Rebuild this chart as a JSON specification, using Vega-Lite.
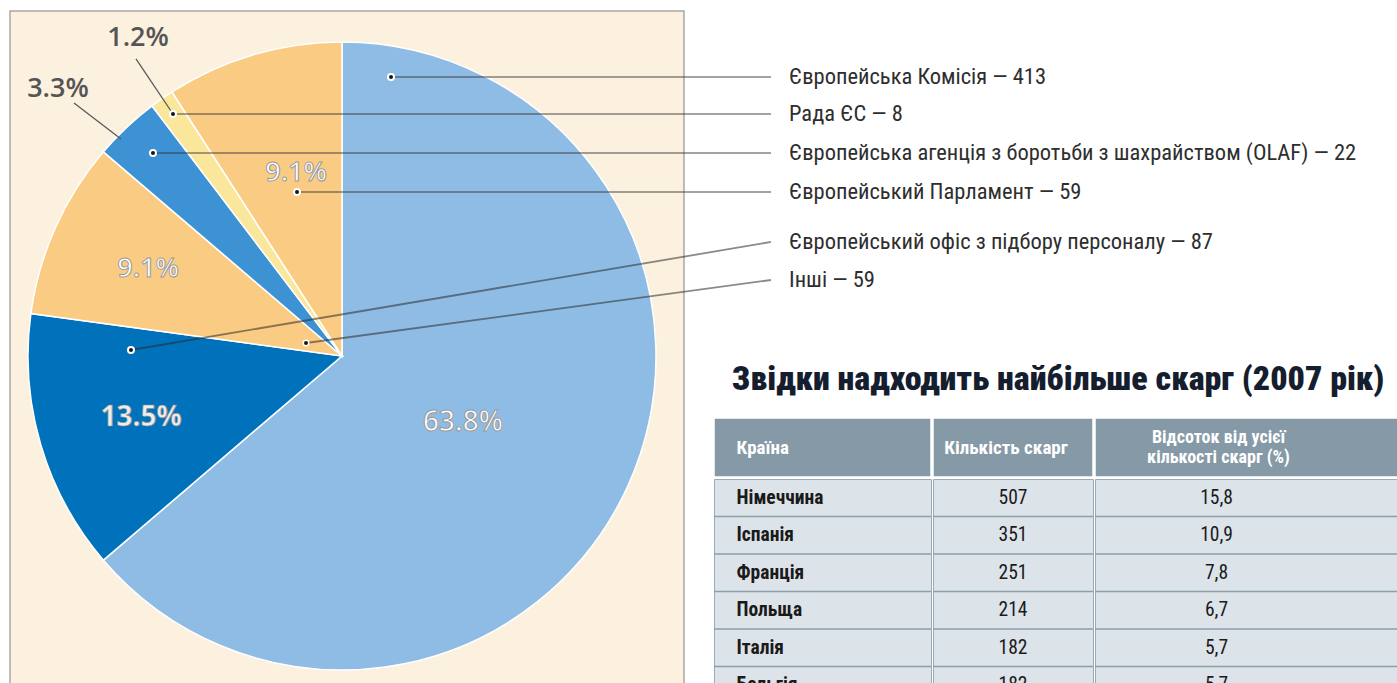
{
  "$schema": "https://vega.github.io/schema/vega-lite/v6.json",
  "padding": {"left": 9, "top": 10, "right": 0, "bottom": 0},
  "background": "#FFFFFF",
  "config": {
    "view": {"stroke": null},
    "axis": {"disable": true},
    "legend": {"disable": true},
    "concat": {"spacing": 0},
    "font": "Roboto Condensed, Noto Sans Condensed, DejaVu Sans Condensed, Roboto, sans-serif"
  },
  "datasets": {
    "offices": [
      {"name": "Європейська Комісія", "count": 413, "share": 0.638, "rank": 1},
      {"name": "Європейський офіс з підбору персоналу", "count": 87, "share": 0.135, "rank": 2},
      {"name": "Інші", "count": 59, "share": 0.091, "rank": 3},
      {"name": "Європейська агенція з боротьби з шахрайством (OLAF)", "count": 22, "share": 0.033, "rank": 4},
      {"name": "Рада ЄС", "count": 8, "share": 0.012, "rank": 5},
      {"name": "Європейський Парламент", "count": 59, "share": 0.091, "rank": 6}
    ],
    "countries": [
      {"country": "Німеччина", "complaints": 507, "percent": 15.8},
      {"country": "Іспанія", "complaints": 351, "percent": 10.9},
      {"country": "Франція", "complaints": 251, "percent": 7.8},
      {"country": "Польща", "complaints": 214, "percent": 6.7},
      {"country": "Італія", "complaints": 182, "percent": 5.7},
      {"country": "Бельгія", "complaints": 182, "percent": 5.7}
    ]
  },
  "spacing": 30,
  "bounds": "flush",
  "hconcat": [
    {
      "width": 674,
      "height": 673,
      "view": {"fill": "#FCF0DF", "stroke": "#A8A8A8", "strokeWidth": 1.5},
      "data": {"name": "offices"},
      "layer": [
        {
          "mark": {"type": "arc", "outerRadius": 314, "stroke": "#FFFFFF", "strokeWidth": 1.5},
          "encoding": {
            "theta": {"field": "count", "type": "quantitative", "stack": true},
            "order": {"field": "rank", "type": "quantitative"},
            "color": {
              "field": "name", "type": "nominal", "legend": null,
              "scale": {
                "domain": ["Європейська Комісія", "Європейський офіс з підбору персоналу", "Інші", "Європейська агенція з боротьби з шахрайством (OLAF)", "Рада ЄС", "Європейський Парламент"],
                "range": ["#8FBCE4", "#0072BB", "#FACB83", "#3C92D3", "#FBE79B", "#FACB83"]
              }
            },
            "x": {"datum": 0, "type": "quantitative", "scale": {"domain": [-1.0573, 1.0892], "nice": false, "zero": false}},
            "y": {"datum": 0, "type": "quantitative", "scale": {"domain": [-1.0446, 1.0987], "nice": false, "zero": false}}
          }
        },
        {
          "transform": [{"filter": "datum.name === 'Європейська Комісія'"}],
          "layer": [
            {"mark": {"type": "rule", "stroke": "#333333", "strokeOpacity": 0.45, "strokeWidth": 2.2},
             "encoding": {"x": {"datum": 0.1561, "type": "quantitative"}, "y": {"datum": 0.8885, "type": "quantitative"}, "x2": {"datum": 1.3662}, "y2": {"datum": 0.8885}}},
            {"mark": {"type": "point", "filled": true, "fill": "#151515", "stroke": "#FFFFFF", "strokeWidth": 2, "size": 36, "opacity": 1},
             "encoding": {"x": {"datum": 0.1561, "type": "quantitative"}, "y": {"datum": 0.8885, "type": "quantitative"}}},
            {"mark": {"type": "text", "font": "Open Sans", "fontSize": 28, "fontWeight": 600, "fill": "#FFFFFF", "stroke": "#9A9A9A", "strokeWidth": 1},
             "encoding": {"x": {"datum": 0.3854, "type": "quantitative"}, "y": {"datum": -0.2134, "type": "quantitative"}, "text": {"field": "share", "type": "quantitative", "format": ".1%"}}}
          ]
        },
        {
          "transform": [{"filter": "datum.name === 'Рада ЄС'"}],
          "layer": [
            {"mark": {"type": "rule", "stroke": "#5A5A5A", "strokeWidth": 1.3},
             "encoding": {"x": {"datum": -0.6561, "type": "quantitative"}, "y": {"datum": 0.9459, "type": "quantitative"}, "x2": {"datum": -0.5382}, "y2": {"datum": 0.7707}}},
            {"mark": {"type": "rule", "stroke": "#333333", "strokeOpacity": 0.45, "strokeWidth": 2.2},
             "encoding": {"x": {"datum": -0.5382, "type": "quantitative"}, "y": {"datum": 0.7707, "type": "quantitative"}, "x2": {"datum": 1.3662}, "y2": {"datum": 0.7707}}},
            {"mark": {"type": "point", "filled": true, "fill": "#151515", "stroke": "#FFFFFF", "strokeWidth": 2, "size": 36, "opacity": 1},
             "encoding": {"x": {"datum": -0.5382, "type": "quantitative"}, "y": {"datum": 0.7707, "type": "quantitative"}}},
            {"mark": {"type": "text", "font": "Open Sans", "fontSize": 27, "fontWeight": 600, "fill": "#555555"},
             "encoding": {"x": {"datum": -0.6497, "type": "quantitative"}, "y": {"datum": 1.0127, "type": "quantitative"}, "text": {"field": "share", "type": "quantitative", "format": ".1%"}}}
          ]
        },
        {
          "transform": [{"filter": "datum.name === 'Європейська агенція з боротьби з шахрайством (OLAF)'"}],
          "layer": [
            {"mark": {"type": "rule", "stroke": "#5A5A5A", "strokeWidth": 1.3},
             "encoding": {"x": {"datum": -0.8535, "type": "quantitative"}, "y": {"datum": 0.8057, "type": "quantitative"}, "x2": {"datum": -0.7038}, "y2": {"datum": 0.6911}}},
            {"mark": {"type": "rule", "stroke": "#333333", "strokeOpacity": 0.45, "strokeWidth": 2.2},
             "encoding": {"x": {"datum": -0.6019, "type": "quantitative"}, "y": {"datum": 0.6465, "type": "quantitative"}, "x2": {"datum": 1.3662}, "y2": {"datum": 0.6465}}},
            {"mark": {"type": "point", "filled": true, "fill": "#151515", "stroke": "#FFFFFF", "strokeWidth": 2, "size": 36, "opacity": 1},
             "encoding": {"x": {"datum": -0.6019, "type": "quantitative"}, "y": {"datum": 0.6465, "type": "quantitative"}}},
            {"mark": {"type": "text", "font": "Open Sans", "fontSize": 27, "fontWeight": 600, "fill": "#555555"},
             "encoding": {"x": {"datum": -0.9045, "type": "quantitative"}, "y": {"datum": 0.8503, "type": "quantitative"}, "text": {"field": "share", "type": "quantitative", "format": ".1%"}}}
          ]
        },
        {
          "transform": [{"filter": "datum.name === 'Європейський Парламент'"}],
          "layer": [
            {"mark": {"type": "rule", "stroke": "#333333", "strokeOpacity": 0.45, "strokeWidth": 2.2},
             "encoding": {"x": {"datum": -0.1433, "type": "quantitative"}, "y": {"datum": 0.5223, "type": "quantitative"}, "x2": {"datum": 1.3662}, "y2": {"datum": 0.5223}}},
            {"mark": {"type": "point", "filled": true, "fill": "#151515", "stroke": "#FFFFFF", "strokeWidth": 2, "size": 36, "opacity": 1},
             "encoding": {"x": {"datum": -0.1433, "type": "quantitative"}, "y": {"datum": 0.5223, "type": "quantitative"}}},
            {"mark": {"type": "text", "font": "Open Sans", "fontSize": 27, "fontWeight": 600, "fill": "#FFFFFF", "stroke": "#9A9A9A", "strokeWidth": 1},
             "encoding": {"x": {"datum": -0.1465, "type": "quantitative"}, "y": {"datum": 0.5828, "type": "quantitative"}, "text": {"field": "share", "type": "quantitative", "format": ".1%"}}}
          ]
        },
        {
          "transform": [{"filter": "datum.name === 'Європейський офіс з підбору персоналу'"}],
          "layer": [
            {"mark": {"type": "rule", "stroke": "#2A2A2A", "strokeOpacity": 0.55, "strokeWidth": 1.8},
             "encoding": {"x": {"datum": -0.6720, "type": "quantitative"}, "y": {"datum": 0.0191, "type": "quantitative"}, "x2": {"datum": 1.3662}, "y2": {"datum": 0.3631}}},
            {"mark": {"type": "point", "filled": true, "fill": "#151515", "stroke": "#FFFFFF", "strokeWidth": 2, "size": 36, "opacity": 1},
             "encoding": {"x": {"datum": -0.6720, "type": "quantitative"}, "y": {"datum": 0.0191, "type": "quantitative"}}},
            {"mark": {"type": "text", "font": "Open Sans", "fontSize": 28, "fontWeight": "bold", "fill": "#EDEDED", "stroke": "#8A8A8A", "strokeWidth": 0.7},
             "encoding": {"x": {"datum": -0.6401, "type": "quantitative"}, "y": {"datum": -0.1975, "type": "quantitative"}, "text": {"field": "share", "type": "quantitative", "format": ".1%"}}}
          ]
        },
        {
          "transform": [{"filter": "datum.name === 'Інші'"}],
          "layer": [
            {"mark": {"type": "rule", "stroke": "#2A2A2A", "strokeOpacity": 0.55, "strokeWidth": 1.8},
             "encoding": {"x": {"datum": -0.1146, "type": "quantitative"}, "y": {"datum": 0.0414, "type": "quantitative"}, "x2": {"datum": 1.3662}, "y2": {"datum": 0.2420}}},
            {"mark": {"type": "point", "filled": true, "fill": "#151515", "stroke": "#FFFFFF", "strokeWidth": 1.5, "size": 30, "opacity": 1},
             "encoding": {"x": {"datum": -0.1146, "type": "quantitative"}, "y": {"datum": 0.0414, "type": "quantitative"}}},
            {"mark": {"type": "text", "font": "Open Sans", "fontSize": 27, "fontWeight": 600, "fill": "#FFFFFF", "stroke": "#9A9A9A", "strokeWidth": 1},
             "encoding": {"x": {"datum": -0.6178, "type": "quantitative"}, "y": {"datum": 0.2771, "type": "quantitative"}, "text": {"field": "share", "type": "quantitative", "format": ".1%"}}}
          ]
        }
      ]
    },
    {
      "spacing": 0,
      "vconcat": [
        {
          "width": 684,
          "height": 352,
          "data": {"name": "offices"},
          "layer": [
            {"transform": [{"filter": "datum.name === 'Європейська Комісія'"}],
             "mark": {"type": "text", "align": "left", "baseline": "middle", "fontSize": 22.5, "letterSpacing": 0.6, "fill": "#2E2E2E", "text": {"expr": "datum.name + ' — ' + datum.count"}},
             "encoding": {
               "x": {"datum": 1.4236, "type": "quantitative", "scale": {"domain": [1.1847, 3.3631], "nice": false, "zero": false}},
               "y": {"datum": 0.8885, "type": "quantitative", "scale": {"domain": [-0.0223, 1.0987], "nice": false, "zero": false}}
             }},
            {"transform": [{"filter": "datum.name === 'Рада ЄС'"}],
             "mark": {"type": "text", "align": "left", "baseline": "middle", "fontSize": 22.5, "letterSpacing": 0.6, "fill": "#2E2E2E", "text": {"expr": "datum.name + ' — ' + datum.count"}},
             "encoding": {"x": {"datum": 1.4236, "type": "quantitative"}, "y": {"datum": 0.7707, "type": "quantitative"}}},
            {"transform": [{"filter": "datum.name === 'Європейська агенція з боротьби з шахрайством (OLAF)'"}],
             "mark": {"type": "text", "align": "left", "baseline": "middle", "fontSize": 22.5, "letterSpacing": 0.6, "fill": "#2E2E2E", "text": {"expr": "datum.name + ' — ' + datum.count"}},
             "encoding": {"x": {"datum": 1.4236, "type": "quantitative"}, "y": {"datum": 0.6465, "type": "quantitative"}}},
            {"transform": [{"filter": "datum.name === 'Європейський Парламент'"}],
             "mark": {"type": "text", "align": "left", "baseline": "middle", "fontSize": 22.5, "letterSpacing": 0.6, "fill": "#2E2E2E", "text": {"expr": "datum.name + ' — ' + datum.count"}},
             "encoding": {"x": {"datum": 1.4236, "type": "quantitative"}, "y": {"datum": 0.5223, "type": "quantitative"}}},
            {"transform": [{"filter": "datum.name === 'Європейський офіс з підбору персоналу'"}],
             "mark": {"type": "text", "align": "left", "baseline": "middle", "fontSize": 22.5, "letterSpacing": 0.6, "fill": "#2E2E2E", "text": {"expr": "datum.name + ' — ' + datum.count"}},
             "encoding": {"x": {"datum": 1.4236, "type": "quantitative"}, "y": {"datum": 0.3631, "type": "quantitative"}}},
            {"transform": [{"filter": "datum.name === 'Інші'"}],
             "mark": {"type": "text", "align": "left", "baseline": "middle", "fontSize": 22.5, "letterSpacing": 0.6, "fill": "#2E2E2E", "text": {"expr": "datum.name + ' — ' + datum.count"}},
             "encoding": {"x": {"datum": 1.4236, "type": "quantitative"}, "y": {"datum": 0.2420, "type": "quantitative"}}}
          ]
        },
        {
          "title": {"text": "Звідки надходить найбільше скарг (2007 рік)", "font": "Roboto Condensed, Noto Sans Condensed, DejaVu Sans Condensed, Roboto, sans-serif", "fontSize": 34, "fontWeight": 900, "color": "#151E2E", "anchor": "middle", "offset": 20},
          "spacing": 0,
          "vconcat": [
            {
              "spacing": 0,
              "hconcat": [
                {"width": 217, "height": 59, "view": {"fill": "#8599A7", "stroke": "#FFFFFF", "strokeWidth": 1.5},
                 "data": {"values": [{"column": "Країна"}]},
                 "mark": {"type": "text", "align": "left", "dx": -86, "fill": "#FFFFFF", "fontSize": 19, "fontWeight": "bold"},
                 "encoding": {"text": {"field": "column", "type": "nominal"}}},
                {"width": 160, "height": 59, "view": {"fill": "#8599A7", "stroke": "#FFFFFF", "strokeWidth": 1.5},
                 "data": {"values": [{"column": "Кількість скарг"}]},
                 "mark": {"type": "text", "dx": -7, "fill": "#FFFFFF", "fontSize": 19, "fontWeight": "bold"},
                 "encoding": {"text": {"field": "column", "type": "nominal"}}},
                {"width": 307, "height": 59, "view": {"fill": "#8599A7", "stroke": "#FFFFFF", "strokeWidth": 1.5},
                 "data": {"values": [{"column": "Відсоток від усієї\nкількості скарг (%)"}]},
                 "mark": {"type": "text", "dx": -30, "dy": -10, "fill": "#FFFFFF", "fontSize": 18, "fontWeight": "bold", "lineBreak": "\n", "lineHeight": 20},
                 "encoding": {"text": {"field": "column", "type": "nominal"}}}
              ]
            },
            {
              "spacing": 0,
              "hconcat": [
                {"width": 217, "height": 206, "view": {"fill": "#DCE3E9", "stroke": "#9AABB7", "strokeWidth": 1},
                 "data": {"name": "countries"},
                 "layer": [
                   {"mark": {"type": "rule", "stroke": "#8D9EAB", "strokeWidth": 1.5, "clip": true},
                    "encoding": {"y": {"field": "country", "type": "nominal", "sort": null, "bandPosition": 1, "scale": {"range": [0, 225], "paddingInner": 0, "paddingOuter": 0}}}},
                   {"mark": {"type": "text", "align": "left", "dx": -86, "fontWeight": "bold", "fontSize": 19.5, "fill": "#1A1A1A", "clip": true},
                    "encoding": {"y": {"field": "country", "type": "nominal", "sort": null}, "text": {"field": "country", "type": "nominal"}}}
                 ]},
                {"width": 160, "height": 206, "view": {"fill": "#DCE3E9", "stroke": "#9AABB7", "strokeWidth": 1},
                 "data": {"name": "countries"},
                 "layer": [
                   {"mark": {"type": "rule", "stroke": "#8D9EAB", "strokeWidth": 1.5, "clip": true},
                    "encoding": {"y": {"field": "country", "type": "nominal", "sort": null, "bandPosition": 1, "scale": {"range": [0, 225], "paddingInner": 0, "paddingOuter": 0}}}},
                   {"mark": {"type": "text", "fontSize": 19.5, "fill": "#1A1A1A", "clip": true},
                    "encoding": {"y": {"field": "country", "type": "nominal", "sort": null}, "text": {"field": "complaints", "type": "quantitative"}}}
                 ]},
                {"width": 307, "height": 206, "view": {"fill": "#DCE3E9", "stroke": "#9AABB7", "strokeWidth": 1},
                 "data": {"name": "countries"},
                 "layer": [
                   {"mark": {"type": "rule", "stroke": "#8D9EAB", "strokeWidth": 1.5, "clip": true},
                    "encoding": {"y": {"field": "country", "type": "nominal", "sort": null, "bandPosition": 1, "scale": {"range": [0, 225], "paddingInner": 0, "paddingOuter": 0}}}},
                   {"mark": {"type": "text", "dx": -32, "fontSize": 19.5, "fill": "#1A1A1A", "clip": true, "text": {"expr": "replace(format(datum.percent, '.1f'), '.', ',')"}},
                    "encoding": {"y": {"field": "country", "type": "nominal", "sort": null}}}
                 ]}
              ]
            }
          ]
        }
      ]
    }
  ]
}
